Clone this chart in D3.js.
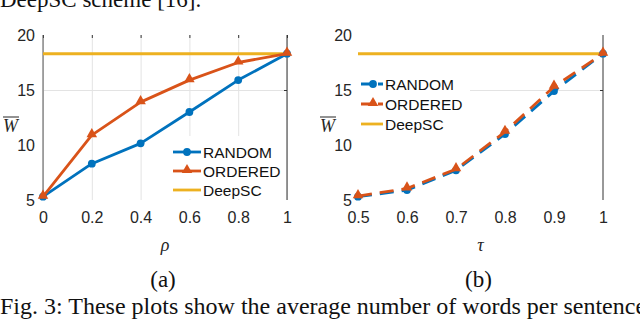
<!DOCTYPE html>
<html>
<head>
<meta charset="utf-8">
<script src="https://cdn.jsdelivr.net/npm/d3@7"></script>
<style>
  body { margin: 0; background: #fff; }
  svg { display: block; }
</style>
</head>
<body>
<svg id="chart" width="640" height="319"></svg>
<script>
// data
var rho = [0, 0.2, 0.4, 0.6, 0.8, 1];
var randomA = [5.3, 8.3, 10.15, 13.0, 15.9, 18.3];
var orderedA = [5.3, 10.9, 13.9, 15.9, 17.5, 18.3];

var tau = [0.5, 0.6, 0.7, 0.8, 0.9, 1];
var randomB = [5.3, 5.9, 7.7, 11.0, 14.9, 18.3];
var orderedB = [5.35, 6.05, 7.8, 11.2, 15.3, 18.3];

var deepSC = 18.3;
var yTicks = [5, 10, 15, 20];
var seriesNames = ["RANDOM", "ORDERED", "DeepSC"];

var BLUE = "#0072BD", ORANGE = "#D95319", YELLOW = "#EDB120";
var SANS = "'Liberation Sans', Arial, sans-serif";
var SERIF = "'Liberation Serif', 'Times New Roman', serif";

var svg = d3.select("#chart");
svg.append("rect").attr("width", 640).attr("height", 319).attr("fill", "#fff");

var plotTop = 35, plotBottom = 200;
var y = d3.scaleLinear().domain([5, 20]).range([plotBottom, plotTop]);

var tri = d3.symbol().type(d3.symbolTriangle).size(48);

function drawPanel(p) {
    var x = d3.scaleLinear().domain(p.xDomain).range(p.xRange);
    var g = svg.append("g");
    var x0 = p.xRange[0], x1 = p.xRange[1];

    // grid
    if (p.xGrid) {
        g.append("g").attr("transform", "translate(0," + plotBottom + ")")
            .call(d3.axisBottom(x).tickValues(p.xTicks).tickSize(-(plotBottom - plotTop)).tickFormat(""))
            .call(function(a){ a.select(".domain").remove(); a.selectAll("line").attr("stroke", "#e3e3e3"); });
        // small ticks on top
        g.append("g").attr("transform", "translate(0," + plotTop + ")")
            .call(d3.axisTop(x).tickValues(p.xTicks).tickSize(-3).tickFormat(""))
            .call(function(a){ a.select(".domain").remove(); a.selectAll("line").attr("stroke", "#333"); });
    }
    g.append("g").attr("transform", "translate(" + x0 + ",0)")
        .call(d3.axisLeft(y).tickValues([15]).tickSize(-(x1 - x0)).tickFormat(""))
        .call(function(a){ a.select(".domain").remove(); a.selectAll("line").attr("stroke", "#e3e3e3"); });

    // axis lines
    if (p.leftLine) {
        g.append("line").attr("x1", x0).attr("x2", x0).attr("y1", plotTop).attr("y2", plotBottom)
            .attr("stroke", "#555").attr("stroke-width", 1);
    }
    g.append("line").attr("x1", x1).attr("x2", x1).attr("y1", plotTop).attr("y2", plotBottom)
        .attr("stroke", "#333").attr("stroke-width", 1);
    g.append("g").attr("transform", "translate(" + x1 + ",0)")
        .call(d3.axisRight(y).tickValues([15]).tickSize(-3).tickFormat(""))
        .call(function(a){ a.select(".domain").remove(); a.selectAll("line").attr("stroke", "#333"); });

    // tick labels
    g.append("g").attr("transform", "translate(" + x0 + ",0)")
        .call(d3.axisLeft(y).tickValues(yTicks).tickSize(0).tickPadding(p.yPad).tickFormat(d3.format("d")))
        .call(function(a){
            a.select(".domain").remove();
            a.selectAll("text").attr("font-family", SANS).attr("font-size", 16).attr("fill", "#262626");
        });
    g.append("g").attr("transform", "translate(0," + plotBottom + ")")
        .call(d3.axisBottom(x).tickValues(p.xTicks).tickSize(0).tickPadding(12).tickFormat(d3.format("~g")))
        .call(function(a){
            a.select(".domain").remove();
            a.selectAll("text").attr("font-family", SANS).attr("font-size", 16).attr("fill", "#262626");
        });

    // axis titles
    g.append("text").attr("x", p.wX).attr("y", 132)
        .attr("font-family", SERIF).attr("font-style", "italic").attr("font-size", 18).attr("fill", "#262626")
        .text("W");
    g.append("line").attr("x1", p.wX).attr("x2", p.wX + 16).attr("y1", 117).attr("y2", 117)
        .attr("stroke", "#262626").attr("stroke-width", 1);
    g.append("text").attr("x", (x0 + x1) / 2).attr("y", 251).attr("text-anchor", "middle")
        .attr("font-family", SERIF).attr("font-style", "italic").attr("font-size", 18).attr("fill", "#262626")
        .text(p.xLabel);
    g.append("text").attr("x", (x0 + x1) / 2 - 2).attr("y", 287).attr("text-anchor", "middle")
        .attr("font-family", SERIF).attr("font-size", 23).attr("fill", "#111")
        .text(p.sub);

    // DeepSC
    g.append("line").attr("x1", x0).attr("x2", x1).attr("y1", y(deepSC)).attr("y2", y(deepSC))
        .attr("stroke", YELLOW).attr("stroke-width", 3);

    var line = d3.line().x(function(d, i){ return x(p.xs[i]); }).y(function(d){ return y(d); });
    var dash = p.dashed ? "14,8" : null;

    var series = [
        {vals: p.random, color: BLUE, marker: "circle"},
        {vals: p.ordered, color: ORANGE, marker: "tri"}
    ];
    series.forEach(function(s) {
        g.append("path").datum(s.vals).attr("d", line).attr("fill", "none")
            .attr("stroke", s.color).attr("stroke-width", 2.8).attr("stroke-dasharray", dash)
            .attr("stroke-linejoin", "round");
        var m = g.selectAll(null).data(s.vals).enter();
        if (s.marker === "circle") {
            m.append("circle").attr("cx", function(d, i){ return x(p.xs[i]); }).attr("cy", function(d){ return y(d); })
                .attr("r", 3.9).attr("fill", s.color);
        } else {
            m.append("path").attr("d", tri)
                .attr("transform", function(d, i){ return "translate(" + x(p.xs[i]) + "," + (y(d) - 1) + ")"; })
                .attr("fill", s.color);
        }
    });

    // legend
    var L = p.legend;
    var lg = g.append("g");
    lg.append("rect").attr("x", L.x).attr("y", L.y).attr("width", L.w).attr("height", L.h).attr("fill", "#fff");
    var colors = [BLUE, ORANGE, YELLOW];
    seriesNames.forEach(function(name, i) {
        var cy = L.row0 + i * L.step;
        lg.append("line").attr("x1", L.sx).attr("x2", L.sx + L.sw).attr("y1", cy).attr("y2", cy)
            .attr("stroke", colors[i]).attr("stroke-width", 2.8)
            .attr("stroke-dasharray", (p.dashed && i < 2) ? "11,6" : null);
        var mx = L.sx + L.sw / 2 + (p.dashed ? 1 : 0);
        if (i === 0) lg.append("circle").attr("cx", mx).attr("cy", cy).attr("r", 3.9).attr("fill", BLUE);
        if (i === 1) lg.append("path").attr("d", tri).attr("transform", "translate(" + mx + "," + (cy - 1) + ")").attr("fill", ORANGE);
        lg.append("text").attr("x", L.sx + L.sw + 2).attr("y", cy + 5.5)
            .attr("font-family", SANS).attr("font-size", 15.5).attr("fill", "#111").text(name);
    });
}

drawPanel({
    xDomain: [0, 1], xRange: [43, 287], xTicks: rho, xs: rho,
    random: randomA, ordered: orderedA, dashed: false,
    xGrid: true, leftLine: true, yPad: 8, wX: 3, xLabel: "\u03C1", sub: "(a)",
    legend: {x: 170, y: 136, w: 116, h: 63, row0: 152, step: 19, sx: 173, sw: 28}
});
drawPanel({
    xDomain: [0.5, 1], xRange: [358, 603], xTicks: tau, xs: tau,
    random: randomB, ordered: orderedB, dashed: true,
    xGrid: false, leftLine: false, yPad: 6, wX: 320, xLabel: "\u03C4", sub: "(b)",
    legend: {x: 356, y: 70, w: 114, h: 64, row0: 84, step: 20, sx: 361, sw: 22}
});

// surrounding paper text
svg.append("text").attr("x", 0).attr("y", 7)
    .attr("font-family", SERIF).attr("font-size", 23).attr("fill", "#111")
    .text("DeepSC scheme [16].");
svg.append("text").attr("x", 0).attr("y", 314)
    .attr("font-family", SERIF).attr("font-size", 24).attr("fill", "#111")
    .text("Fig. 3: These plots show the average number of words per sentence");
</script>
</body>
</html>
